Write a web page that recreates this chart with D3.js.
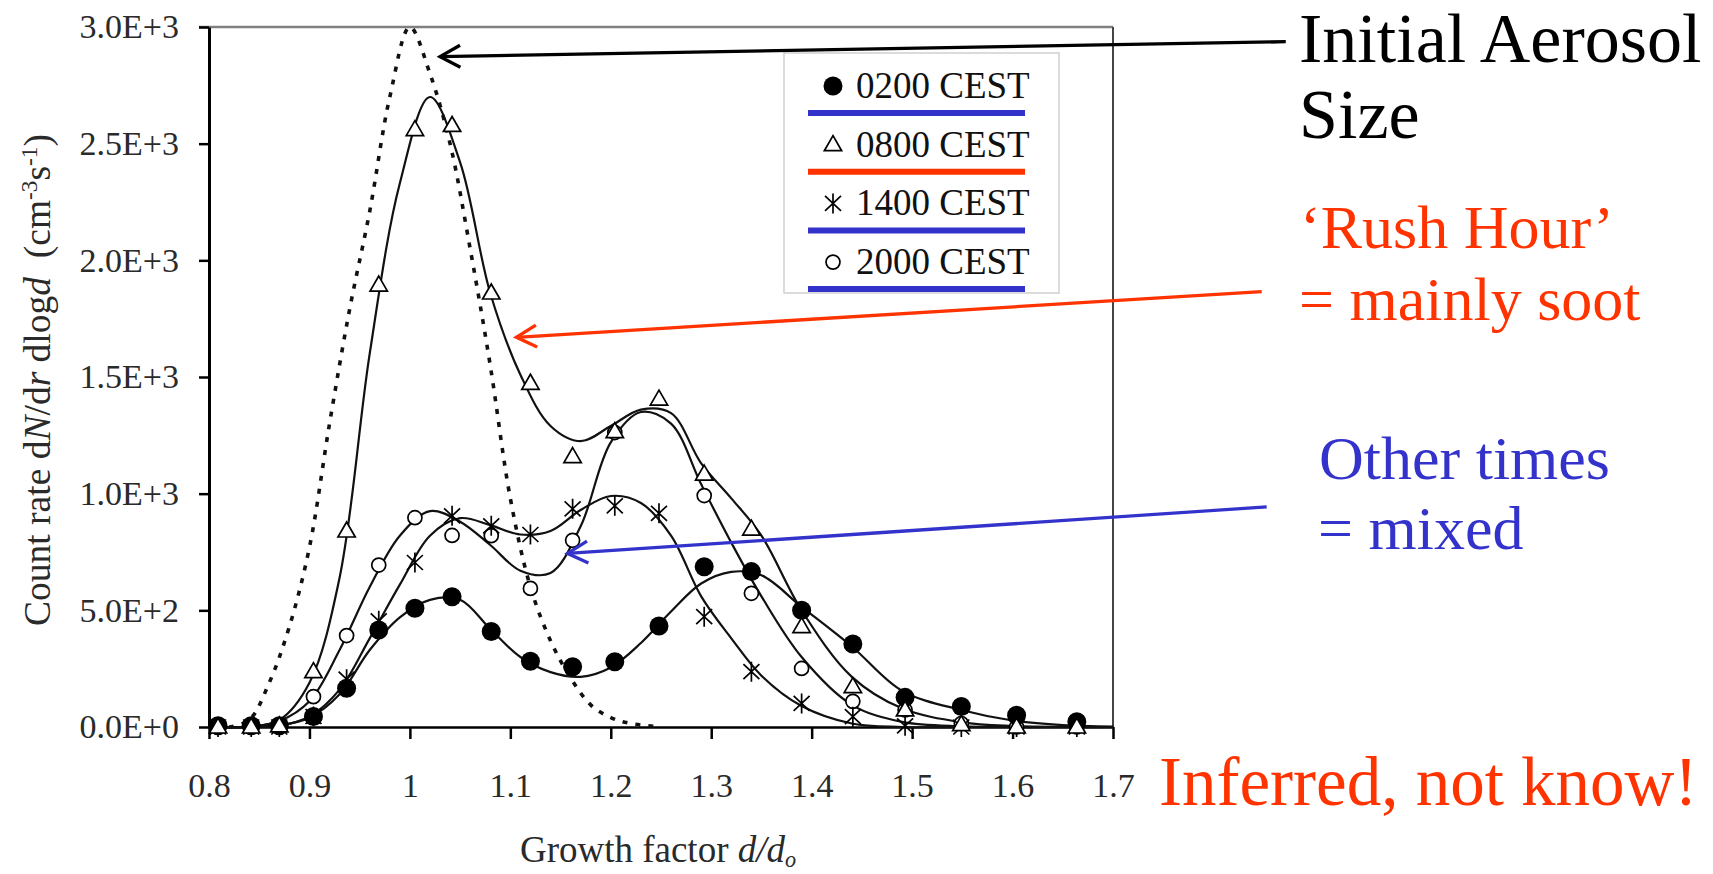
<!DOCTYPE html>
<html>
<head>
<meta charset="utf-8">
<script src="https://cdn.jsdelivr.net/npm/d3@7"></script>
<style>
  body { margin: 0; background: #fff; }
  text { font-family: "Liberation Serif", "Times New Roman", serif; }
</style>
</head>
<body>
<script>
// measured growth factor bins (same for all four times)
var growth = [0.809, 0.842, 0.870, 0.904, 0.937, 0.969, 1.005, 1.042, 1.081, 1.120, 1.162,
              1.204, 1.248, 1.293, 1.340, 1.390, 1.441, 1.493, 1.549, 1.604, 1.664];
var cest0200 = [5, 5, 5, 45, 166, 416, 509, 558, 409, 282, 258, 280, 433, 687, 666, 500, 356, 127, 88, 50, 23];
var cest0800 = [0, 0, 5, 237, 840, 1894, 2560, 2578, 1860, 1473, 1159, 1266, 1405, 1084, 848, 430, 173, 73, 10, 0, 0];
var cest1400 = [0, 0, 0, 45, 205, 455, 705, 905, 862, 825, 935, 948, 916, 473, 237, 101, 44, 5, 0, 0, 0];
// null = point hidden under another marker
var cest2000 = [0, 0, 0, 130, 392, 694, 897, 821, 820, 594, 800, 1262, null, 992, 573, 251, 110, 73, 15, 0, 0];

// fitted curves
var fitX    = [0.80, 0.84, 0.87, 0.90, 0.93, 0.96, 0.99, 1.02, 1.05, 1.08, 1.11, 1.14, 1.17,
               1.20, 1.23, 1.26, 1.29, 1.32, 1.35, 1.39, 1.44, 1.49, 1.55, 1.60, 1.65, 1.70];
var fit0200 = [0, 0, 8, 40, 140, 330, 470, 545, 545, 420, 300, 235, 215,
               255, 360, 495, 615, 665, 650, 515, 345, 155, 72, 28, 8, 2];
var fit0800 = [0, 2, 30, 190, 640, 1600, 2330, 2700, 2420, 1860, 1510, 1290, 1225,
               1290, 1360, 1345, 1130, 980, 820, 500, 215, 80, 20, 4, 0, 0];
var fit1400 = [0, 0, 5, 45, 160, 380, 610, 820, 895, 865, 825, 840, 930,
               990, 960, 820, 560, 380, 220, 90, 15, 0, 0, 0, 0, 0];
var fit2000 = [0, 2, 25, 110, 330, 600, 820, 925, 880, 780, 670, 660, 860,
               1220, 1350, 1300, 1040, 790, 560, 300, 95, 22, 3, 0, 0, 0];

// initial aerosol size (dotted)
var initX = [0.82, 0.84, 0.86, 0.88, 0.90, 0.92, 0.94, 0.96, 0.98, 1.00, 1.02, 1.04,
             1.06, 1.08, 1.10, 1.12, 1.14, 1.16, 1.18, 1.20, 1.22, 1.25];
var initAerosol = [0, 30, 190, 430, 770, 1300, 1790, 2210, 2700, 3000, 2800, 2500,
                   2050, 1550, 980, 600, 370, 210, 95, 40, 15, 0];

var xTicks = [0.8, 0.9, 1.0, 1.1, 1.2, 1.3, 1.4, 1.5, 1.6, 1.7];
var xTickLabels = ["0.8", "0.9", "1", "1.1", "1.2", "1.3", "1.4", "1.5", "1.6", "1.7"];
var yTicks = [0, 500, 1000, 1500, 2000, 2500, 3000];
var yTickLabels = ["0.0E+0", "5.0E+2", "1.0E+3", "1.5E+3", "2.0E+3", "2.5E+3", "3.0E+3"];

var legendLabels = ["0200 CEST", "0800 CEST", "1400 CEST", "2000 CEST"];
var legendUnderline = ["#3333cc", "#ff3300", "#3333cc", "#3333cc"];

var RED = "#ff3300", BLUE = "#3333cc";

var svg = d3.select("body").append("svg")
  .attr("width", 1713)
  .attr("height", 874);

var x = d3.scaleLinear().domain([0.8, 1.7]).range([209, 1113]);
var y = d3.scaleLinear().domain([0, 3000]).range([727, 27]);

// frame: top and right border
svg.append("line").attr("x1", 199).attr("x2", 1113).attr("y1", y(3000)).attr("y2", y(3000))
  .attr("stroke", "#808080").attr("stroke-width", 2.5);
svg.append("line").attr("x1", x(1.7)).attr("x2", x(1.7)).attr("y1", y(3000)).attr("y2", y(0))
  .attr("stroke", "#444").attr("stroke-width", 2);

// axes
var yAxis = d3.axisLeft(y).tickValues(yTicks)
  .tickFormat(function(d, i) { return yTickLabels[i]; })
  .tickSize(10).tickSizeOuter(0).tickPadding(20);
var gy = svg.append("g").attr("transform", "translate(" + x(0.8) + ",0)").call(yAxis);
gy.select(".domain").attr("stroke", "#000").attr("stroke-width", 3);
gy.selectAll(".tick line").attr("stroke", "#000").attr("stroke-width", 2.5);
gy.selectAll(".tick text").attr("font-size", 34).attr("fill", "#2a2a2a")
  .style("font-family", "'Liberation Serif', serif");

var xAxis = d3.axisBottom(x).tickValues(xTicks)
  .tickFormat(function(d, i) { return xTickLabels[i]; })
  .tickSize(12).tickSizeOuter(0).tickPadding(34);
var gx = svg.append("g").attr("transform", "translate(0," + y(0) + ")").call(xAxis);
gx.select(".domain").attr("stroke", "#000").attr("stroke-width", 2.5);
gx.selectAll(".tick line").attr("stroke", "#000").attr("stroke-width", 2.5);
gx.selectAll(".tick text").attr("font-size", 34).attr("fill", "#2a2a2a")
  .style("font-family", "'Liberation Serif', serif");

// axis titles
var yl = svg.append("text")
  .attr("transform", "translate(50,380) rotate(-90)")
  .attr("text-anchor", "middle")
  .attr("font-size", 37.5)
  .attr("fill", "#2a2a2a");
yl.append("tspan").text("Count rate d");
yl.append("tspan").attr("font-style", "italic").text("N");
yl.append("tspan").text("/d");
yl.append("tspan").attr("font-style", "italic").text("r");
yl.append("tspan").text(" dlog");
yl.append("tspan").attr("font-style", "italic").text("d");
yl.append("tspan").text("\u00a0\u00a0(cm");
yl.append("tspan").attr("font-size", "0.62em").attr("baseline-shift", "super").text("-3");
yl.append("tspan").text("s");
yl.append("tspan").attr("font-size", "0.62em").attr("baseline-shift", "super").text("-1");
yl.append("tspan").text(")");

var xl = svg.append("text")
  .attr("x", 658).attr("y", 862)
  .attr("text-anchor", "middle")
  .attr("font-size", 37)
  .attr("fill", "#2a2a2a");
xl.append("tspan").text("Growth factor ");
xl.append("tspan").attr("font-style", "italic").text("d/d");
xl.append("tspan").attr("font-style", "italic").attr("font-size", "0.6em")
  .attr("dy", 5).text("o");

// curves
var line = d3.line()
  .x(function(d) { return x(d[0]); })
  .y(function(d) { return y(d[1]); })
  .curve(d3.curveCatmullRom.alpha(0.5));

svg.append("path")
  .datum(d3.zip(initX, initAerosol))
  .attr("d", line)
  .attr("fill", "none")
  .attr("stroke", "#111")
  .attr("stroke-width", 3.6)
  .attr("stroke-dasharray", "5,8");

[fit0200, fit0800, fit1400, fit2000].forEach(function(f) {
  svg.append("path")
    .datum(d3.zip(fitX, f))
    .attr("d", line)
    .attr("fill", "none")
    .attr("stroke", "#111")
    .attr("stroke-width", 2.2);
});

// markers
function asteriskPath(r) {
  var a = r * 0.8, b = r * 0.75;
  return "M0," + (-r) + "L0," + r +
    "M" + (-a) + "," + (-b) + "L" + a + "," + b +
    "M" + (-a) + "," + b + "L" + a + "," + (-b);
}
var triangle = d3.symbol().type(d3.symbolTriangle).size(130);

function drawMarkers(g, kind) {
  if (kind === 0) {
    g.append("circle").attr("r", 9.5).attr("fill", "#000");
  } else if (kind === 1) {
    g.append("path").attr("d", triangle).attr("transform", "translate(0,1)")
      .attr("fill", "#fff").attr("stroke", "#000").attr("stroke-width", 1.7);
  } else if (kind === 2) {
    g.append("path").attr("d", asteriskPath(10)).attr("fill", "none")
      .attr("stroke", "#000").attr("stroke-width", 1.7);
  } else {
    g.append("circle").attr("r", 7).attr("fill", "#fff")
      .attr("stroke", "#000").attr("stroke-width", 1.7);
  }
}

// open circles first so triangles sit on top where they coincide
var order = [3, 0, 2, 1];
var seriesVals = [cest0200, cest0800, cest1400, cest2000];
order.forEach(function(k) {
  svg.append("g").selectAll("g")
    .data(d3.zip(growth, seriesVals[k]).filter(function(d) { return d[1] !== null; }))
    .enter().append("g")
    .attr("transform", function(d) { return "translate(" + x(d[0]) + "," + y(d[1]) + ")"; })
    .each(function() { drawMarkers(d3.select(this), k); });
});

// legend
var lg = svg.append("g");
lg.append("rect").attr("x", 784).attr("y", 53).attr("width", 275).attr("height", 240)
  .attr("fill", "#fff").attr("stroke", "#cfcfcf").attr("stroke-width", 1.5);
legendLabels.forEach(function(lab, i) {
  var cy = 86 + i * 58.7;
  var mg = lg.append("g").attr("transform", "translate(833," + cy + ")");
  drawMarkers(mg, i);
  lg.append("text").attr("x", 856).attr("y", cy + 12).attr("font-size", 37)
    .attr("fill", "#111").text(lab);
  lg.append("line").attr("x1", 808).attr("x2", 1025)
    .attr("y1", cy + 27).attr("y2", cy + 27)
    .attr("stroke", legendUnderline[i]).attr("stroke-width", 6);
});

// annotation arrows (tail, tip in data units)
var arrows = [
  { from: [1.872, 2937], to: [1.030, 2873], color: "#000" },
  { from: [1.848, 1866], to: [1.106, 1670], color: RED },
  { from: [1.853, 943],  to: [1.157, 744],  color: BLUE }
];
arrows.forEach(function(a) {
  var x1 = x(a.from[0]), y1 = y(a.from[1]), x2 = x(a.to[0]), y2 = y(a.to[1]);
  var ang = Math.atan2(y1 - y2, x1 - x2), len = 23, spread = 0.5;
  svg.append("line").attr("x1", x1).attr("y1", y1).attr("x2", x2).attr("y2", y2)
    .attr("stroke", a.color).attr("stroke-width", 3.3);
  svg.append("path")
    .attr("d", "M" + (x2 + len * Math.cos(ang + spread)) + "," + (y2 + len * Math.sin(ang + spread)) +
      "L" + x2 + "," + y2 +
      "L" + (x2 + len * Math.cos(ang - spread)) + "," + (y2 + len * Math.sin(ang - spread)))
    .attr("fill", "none").attr("stroke", a.color).attr("stroke-width", 3.3);
});

// annotation text
function note(tx, ty, size, color, str) {
  svg.append("text").attr("x", tx).attr("y", ty).attr("font-size", size)
    .attr("fill", color).text(str);
}
note(1299, 62, 70, "#000", "Initial Aerosol");
note(1299, 138, 70, "#000", "Size");
note(1300, 248, 62, RED, "\u2018Rush Hour\u2019");
note(1299, 320, 62, RED, "= mainly soot");
note(1319, 479, 62, BLUE, "Other times");
note(1318, 549, 62, BLUE, "= mixed");
note(1159, 805, 69, RED, "Inferred, not know!");
</script>
</body>
</html>
